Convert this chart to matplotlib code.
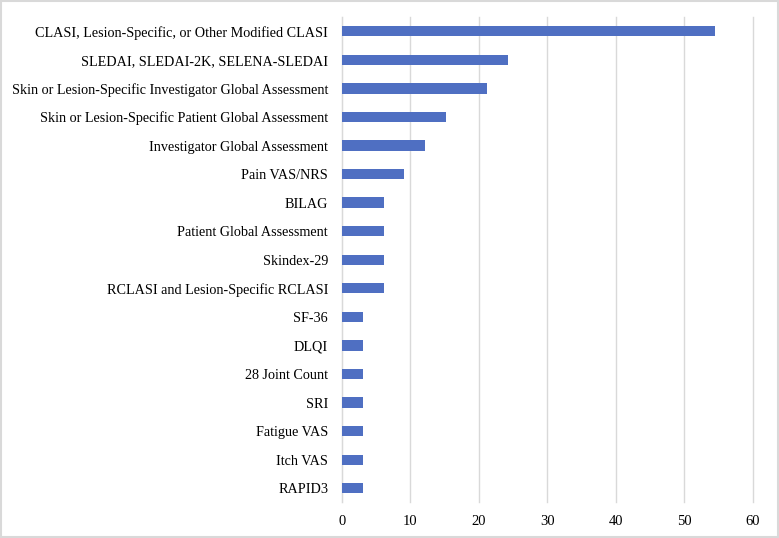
import matplotlib
matplotlib.use("Agg")
import matplotlib.pyplot as plt
from matplotlib.patches import Rectangle

# outcome measures, top to bottom
measures = [
    "CLASI, Lesion-Specific, or Other Modified CLASI",
    "SLEDAI, SLEDAI-2K, SELENA-SLEDAI",
    "Skin or Lesion-Specific Investigator Global Assessment",
    "Skin or Lesion-Specific Patient Global Assessment",
    "Investigator Global Assessment",
    "Pain VAS/NRS",
    "BILAG",
    "Patient Global Assessment",
    "Skindex-29",
    "RCLASI and Lesion-Specific RCLASI",
    "SF-36",
    "DLQI",
    "28 Joint Count",
    "SRI",
    "Fatigue VAS",
    "Itch VAS",
    "RAPID3",
]
percent = [54.5, 24.2, 21.2, 15.2, 12.1, 9.1, 6.1, 6.1, 6.1, 6.1,
           3.0, 3.0, 3.0, 3.0, 3.0, 3.0, 3.0]
x_ticks = [0, 10, 20, 30, 40, 50, 60]

plt.rcParams['font.family'] = ['Liberation Serif', 'DejaVu Serif']

fig = plt.figure(figsize=(7.79, 5.38), dpi=100)
ax = fig.add_axes([0.439, 0.066, 0.5276, 0.9024])

pos = list(range(len(measures)))
ax.barh(pos, percent, height=0.36, color='#4F6FC2', zorder=3)

ax.set_xlim(0, 60)
ax.set_ylim(len(measures) - 0.5, -0.5)
ax.set_xticks(x_ticks)
ax.set_yticks(pos)
ax.set_yticklabels(measures, fontsize=10.2)
ax.tick_params(axis='x', labelsize=10.5, length=0, pad=9)
ax.tick_params(axis='y', length=0, pad=10)
ax.xaxis.grid(True, color='#D9D9D9', linewidth=1, zorder=0)
for gl in ax.get_xgridlines():
    gl.set_clip_on(False)

for s in ['top', 'right', 'bottom']:
    ax.spines[s].set_visible(False)
ax.spines['left'].set_color('#D9D9D9')

# light frame round the whole picture
fig.patches.append(Rectangle((0.001, 0.001), 0.998, 0.997, transform=fig.transFigure,
                             fill=False, edgecolor='#D9D9D9', linewidth=1.5))

fig.savefig('out.png', dpi=100)
